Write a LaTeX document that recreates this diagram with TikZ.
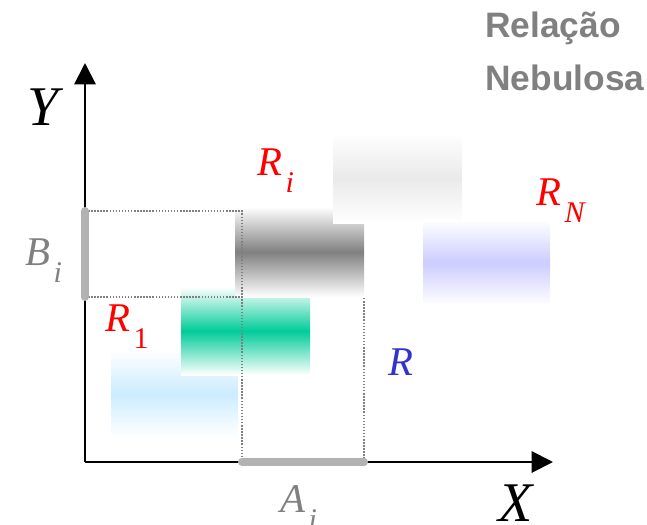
\documentclass[tikz,border=0pt]{standalone}
\usepackage{fontspec}
\setmainfont{Liberation Serif}
\newfontfamily\titlefont{Liberation Sans}
\usetikzlibrary{arrows.meta}
\definecolor{lblgray}{RGB}{128,128,128}
\definecolor{bargray}{RGB}{178,178,178}
\definecolor{rred}{RGB}{255,0,0}
\definecolor{rblue}{RGB}{51,51,204}
\definecolor{cgreen}{RGB}{0,204,153}
\definecolor{clblue}{RGB}{204,236,255}
\definecolor{cdgray}{RGB}{128,128,128}
\definecolor{clgray}{RGB}{234,234,234}
\definecolor{cpurp}{RGB}{204,204,255}
\newcommand\mysub[2]{#1\kern2.5pt\raisebox{-12.75pt}{\fontsize{22.5}{22.5}\selectfont #2}}
\begin{document}
\begin{tikzpicture}[x=0.75pt,y=-0.75pt,
  fuzzy/.style={top color=white,bottom color=white,middle color=#1},
  guide/.style={draw=lblgray,line width=1.1pt,dash pattern=on 1.1pt off 1.2pt},
  axis/.style={line width=1.5pt,-{Triangle[length=16pt,width=16pt]}},
  bar/.style={draw=bargray,line width=6pt,line cap=round},
  biglab/.style={anchor=base west,inner sep=0pt,font=\fontsize{42}{42}\selectfont\itshape},
  lab/.style={anchor=base west,inner sep=0pt,font=\fontsize{30.6}{30.6}\selectfont\itshape},
  title/.style={anchor=base west,inner sep=0pt,text=lblgray,font=\titlefont\bfseries\fontsize{26.5}{26.5}\selectfont}]
\useasboundingbox (0,0) rectangle (647,525);
% fuzzy sets
\shade[fuzzy=clblue] (111,350) rectangle (238,437);
\shade[fuzzy=cgreen] (181,287) rectangle (310,375);
\shade[fuzzy=cdgray] (235,207) rectangle (364,297);
\shade[fuzzy=clgray] (333,133) rectangle (462,223);
\shade[fuzzy=cpurp] (423,220) rectangle (550,305);
% coordinates
\coordinate (O) at (85,462);
\coordinate (ytip) at (85,63);
\coordinate (xtip) at (553,462);
\coordinate (bt) at (85,211);
\coordinate (bb) at (85,297);
\coordinate (ct) at (242,211);
\coordinate (cb) at (242,297);
\coordinate (al) at (242,462);
\coordinate (ar) at (364,462);
\coordinate (rt) at (364,298);
% guides
\draw[guide] (bt) -- (ct) -- (al);
\draw[guide] (bb) -- (cb);
\draw[guide] (rt) -- (ar);
% axes
\draw[axis] (O) -- (ytip);
\draw[axis] (O) -- (xtip);
% projections
\draw[bar] (bt) -- (bb);
\draw[bar] (al) -- (ar);
% labels
\node[biglab] (ylab) at (27,125) {Y};
\node[biglab] (xlab) at (498,521) {X};
\node[lab,text=lblgray] (alab) at (280,512) {\mysub{A}{i}};
\node[lab,text=lblgray] (blab) at (25,265) {\mysub{B}{i}};
\node[lab,text=rred] (rilab) at (257,175) {\mysub{R}{i}};
\node[lab,text=rred] (r1lab) at (105,331) {\mysub{R}{\upshape 1}};
\node[lab,text=rred] (rnlab) at (536,205) {\mysub{R}{N}};
\node[lab,text=rblue] (rlab) at (388,375) {R};
\node[title] (t1) at (485,37) {Relação};
\node[title] (t2) at (485,90) {Nebulosa};
\end{tikzpicture}
\end{document}
